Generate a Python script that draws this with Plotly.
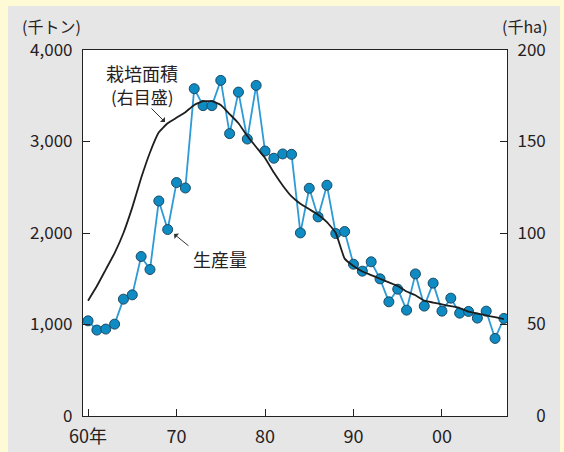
import plotly.graph_objects as go

years = list(range(1960, 2008))
production = [1040, 939, 950, 1004, 1277, 1324, 1743, 1601, 2350, 2038,
              2551, 2492, 3577, 3392, 3392, 3668, 3086, 3540, 3027, 3613,
              2896, 2817, 2864, 2860, 2001, 2489, 2176, 2522, 1994, 2016,
              1659, 1583, 1685, 1499, 1248, 1386, 1157, 1553, 1201, 1452,
              1146, 1288, 1124, 1143, 1070, 1146, 848, 1066]
area = [63, 71, 80, 89, 100, 114, 130, 144, 155, 160,
        163, 166, 170, 172, 172, 170, 165, 160, 153, 147,
        141, 133, 126, 120, 116, 113, 110, 106, 100, 86,
        82, 79, 77, 75, 73, 71, 68, 66, 63, 62,
        61, 60, 59, 57, 56, 55, 54, 53]
x_ticks = [1960, 1970, 1980, 1990, 2000]
x_ticktext = ["60年", "70", "80", "90", "00"]
y_ticks = [0, 1000, 2000, 3000, 4000]
y_ticktext = ["0", "1,000", "2,000", "3,000", "4,000"]
y2_ticks = [0, 50, 100, 150, 200]
y2_ticktext = ["\u2007\u20070", "\u200750", "100", "150", "200"]

FONT = "Noto Sans CJK JP, Noto Sans, sans-serif"
TXT = "#26211e"

fig = go.Figure()
fig.add_trace(go.Scatter(x=years, y=area, yaxis="y2", mode="lines",
                         line=dict(color="#1e1e1e", width=1.8, shape="spline", smoothing=0.4),
                         showlegend=False))
fig.add_trace(go.Scatter(x=years, y=production, mode="lines+markers",
                         line=dict(color="#2e9ad6", width=1.8),
                         marker=dict(size=10, color="#0e8bc2", line=dict(color="#1c4a63", width=1)),
                         showlegend=False))

L, R, T, B = 83, 507, 50, 416
W, H = R - L, B - T
def px(x):
    return (x - L) / W
def py(y):
    return (B - y) / H

fig.update_layout(
    width=564, height=452,
    margin=dict(l=L, r=564 - R, t=T, b=452 - B, autoexpand=False),
    paper_bgcolor="#FFFAD6",
    plot_bgcolor="white",
    font=dict(family=FONT, color=TXT, size=17),
    xaxis=dict(range=[1959.43, 2007.35], tickvals=x_ticks, ticktext=x_ticktext, automargin=False,
               ticks="inside", ticklen=7, tickcolor="#222", showline=True, linecolor="#222",
               linewidth=1.2, mirror=True, showgrid=False, zeroline=False, ticklabelstandoff=4,
               tickfont=dict(size=18, family=FONT, color=TXT)),
    yaxis=dict(range=[0, 4000], tickvals=y_ticks, ticktext=y_ticktext, automargin=False,
               ticks="inside", ticklen=7, tickcolor="#222", showline=True, linecolor="#222",
               linewidth=1.2, showgrid=False, zeroline=False, ticklabelstandoff=6,
               tickfont=dict(size=17, family=FONT, color=TXT)),
    yaxis2=dict(range=[0, 200], tickvals=y2_ticks, ticktext=y2_ticktext, overlaying="y", side="right",
                automargin=False,
                ticks="inside", ticklen=7, tickcolor="#222", showline=True, linecolor="#222",
                linewidth=1.2, showgrid=False, zeroline=False, ticklabelstandoff=6,
                tickfont=dict(size=17, family=FONT, color=TXT)),
    shapes=[
        dict(type="rect", xref="paper", yref="paper", x0=px(8), x1=px(560), y0=py(452), y1=py(6),
             fillcolor="#E6E6E6", line=dict(width=0), layer="below"),
        dict(type="rect", xref="paper", yref="paper", x0=0, x1=1, y0=0, y1=1,
             fillcolor="white", line=dict(width=0), layer="below"),
    ],
    annotations=[
        dict(x=px(20), y=py(26), xref="paper", yref="paper", text="(千トン)", showarrow=False,
             xanchor="left", yanchor="middle", font=dict(size=16)),
        dict(x=px(550), y=py(26), xref="paper", yref="paper", text="(千ha)", showarrow=False,
             xanchor="right", yanchor="middle", font=dict(size=16)),
        dict(x=px(142), y=py(73), xref="paper", yref="paper", text="栽培面積", showarrow=False,
             xanchor="center", yanchor="middle", font=dict(size=18)),
        dict(x=px(142), y=py(96), xref="paper", yref="paper", text="(右目盛)", showarrow=False,
             xanchor="center", yanchor="middle", font=dict(size=17)),
        dict(x=px(165), y=py(122), ax=-15, ay=-15, xref="paper", yref="paper",
             axref="pixel", ayref="pixel", text="", showarrow=True, arrowhead=1, arrowsize=1.2,
             arrowwidth=1, arrowcolor="#333"),
        dict(x=px(220), y=py(259), xref="paper", yref="paper", text="生産量", showarrow=False,
             xanchor="center", yanchor="middle", font=dict(size=18)),
        dict(x=px(174), y=py(234), ax=16, ay=13, xref="paper", yref="paper",
             axref="pixel", ayref="pixel", text="", showarrow=True, arrowhead=1, arrowsize=1.2,
             arrowwidth=1, arrowcolor="#333"),
    ],
)

fig.write_html("out.html", config={"displayModeBar": False},
               post_script="document.body.style.margin='0';document.body.style.padding='0';")
